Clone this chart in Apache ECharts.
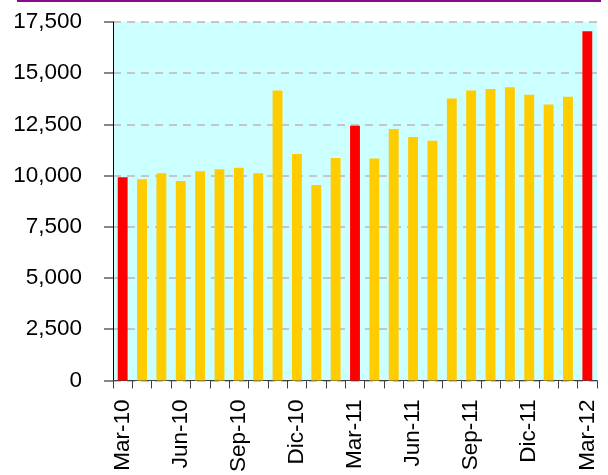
<!DOCTYPE html>
<html>
<head>
<meta charset="utf-8">
<script src="https://cdn.jsdelivr.net/npm/echarts@6/dist/echarts.min.js"></script>
<style>
  html, body { margin: 0; padding: 0; background: #ffffff; }
  #chart { width: 608px; height: 475px; }
</style>
</head>
<body>
<div id="chart"></div>
<script>
// Monthly values, March 2010 to March 2012
const months = [
  'Mar-10', 'Abr-10', 'May-10', 'Jun-10', 'Jul-10', 'Ago-10', 'Sep-10', 'Oct-10', 'Nov-10',
  'Dic-10', 'Ene-11', 'Feb-11', 'Mar-11', 'Abr-11', 'May-11', 'Jun-11', 'Jul-11', 'Ago-11',
  'Sep-11', 'Oct-11', 'Nov-11', 'Dic-11', 'Ene-12', 'Feb-12', 'Mar-12'
];
const values = [
  9920, 9820, 10110, 9740, 10210, 10310, 10390, 10110, 14150,
  11050, 9540, 10860, 12430, 10840, 12270, 11890, 11700, 13760,
  14150, 14230, 14320, 13950, 13470, 13850, 17050
];
const yTicks = { min: 0, max: 17500, interval: 2500 };

const FONT = '"Liberation Sans", Arial, sans-serif';
const chart = echarts.init(document.getElementById('chart'), null, { renderer: 'canvas' });

chart.setOption({
  animation: false,
  backgroundColor: '#ffffff',
  graphic: [{
    type: 'rect',
    shape: { x: 17, y: 0, width: 584, height: 2 },
    style: { fill: '#8b0a8b' }
  }],
  grid: {
    left: 113, right: 11, top: 22, bottom: 93,
    show: true, backgroundColor: '#ccffff', borderWidth: 0
  },
  xAxis: {
    type: 'category',
    data: months,
    boundaryGap: true,
    axisLine: { show: true, lineStyle: { color: '#404040', width: 1 } },
    axisTick: { show: true, interval: 0, length: 8, lineStyle: { color: '#404040' } },
    axisLabel: {
      interval: 2, rotate: 90, margin: 19,
      fontFamily: FONT, fontSize: 22.5, color: '#000000'
    },
    splitLine: { show: false }
  },
  yAxis: {
    type: 'value',
    min: yTicks.min, max: yTicks.max, interval: yTicks.interval,
    axisLine: { show: true, lineStyle: { color: '#000000', width: 1 } },
    axisTick: { show: true, length: 9, lineStyle: { color: '#606060', width: 1.5 } },
    axisLabel: {
      margin: 31, fontFamily: FONT, fontSize: 22.5, color: '#000000',
      formatter: v => v.toLocaleString('en-US')
    },
    splitLine: { show: true, lineStyle: { color: '#c6c6c6', type: [8, 6], width: 2 } }
  },
  series: [{
    type: 'bar',
    data: values,
    barWidth: '51%',
    itemStyle: {
      color: p => (p.name.startsWith('Mar') ? '#ff0000' : '#ffcc00')
    }
  }]
});
</script>
</body>
</html>
